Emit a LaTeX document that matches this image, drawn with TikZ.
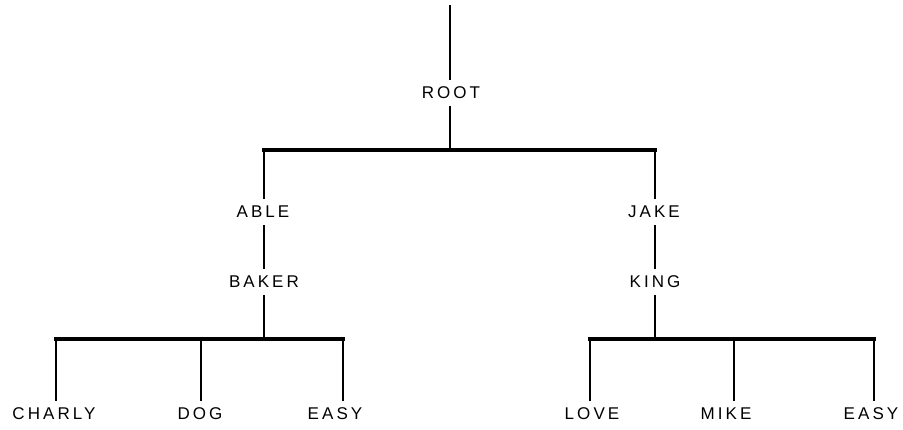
\documentclass[tikz,border=0pt]{standalone}
\usepackage{fontspec}
\setmainfont{Liberation Sans}[LetterSpace=18]
\begin{document}
\begin{tikzpicture}[x=1pt,y=-1pt,
  lbl/.style={inner xsep=0pt,inner ysep=7pt,text height=12pt,text depth=0pt,
    font=\fontsize{17}{17}\selectfont},
  stem/.style={line width=2.3pt},
  bar/.style={line width=3.4pt,line cap=rect}]
\useasboundingbox (0,0) rectangle (903,430);
% labels
\node[lbl] (root) at (451,93) {ROOT};
\node[lbl] (able) at (263,212) {ABLE};
\node[lbl] (baker) at (264,282) {BAKER};
\node[lbl] (jake) at (654,212) {JAKE};
\node[lbl] (king) at (655,282) {KING};
\node[lbl] (charly) at (54,414) {CHARLY};
\node[lbl] (dog) at (200,414) {DOG};
\node[lbl] (easya) at (335,414) {EASY};
\node[lbl] (love) at (592,414) {LOVE};
\node[lbl] (mike) at (726,414) {MIKE};
\node[lbl] (easyb) at (871,414) {EASY};
% junction points
\coordinate (top) at (450,5);
\coordinate (j0) at (450,150);
\coordinate (jl) at (264,150);
\coordinate (jr) at (655,150);
\coordinate (kl) at (264,339);
\coordinate (kr) at (655,339);
\coordinate (c1) at (56,339);
\coordinate (c2) at (201,339);
\coordinate (c3) at (343,339);
\coordinate (d1) at (590,339);
\coordinate (d2) at (734,339);
\coordinate (d3) at (874,339);
% connectors
\draw[stem] (top) -- (top |- root.north);
\draw[stem] (j0 |- root.south) -- (j0);
\draw[bar] (jl) -- (jr);
\draw[stem] (jl) -- (jl |- able.north);
\draw[stem] (jl |- able.south) -- (jl |- baker.north);
\draw[stem] (kl |- baker.south) -- (kl);
\draw[stem] (jr) -- (jr |- jake.north);
\draw[stem] (jr |- jake.south) -- (jr |- king.north);
\draw[stem] (kr |- king.south) -- (kr);
\draw[bar] (c1) -- (c3);
\draw[bar] (d1) -- (d3);
\draw[stem] (c1) -- (c1 |- charly.north);
\draw[stem] (c2) -- (c2 |- dog.north);
\draw[stem] (c3) -- (c3 |- easya.north);
\draw[stem] (d1) -- (d1 |- love.north);
\draw[stem] (d2) -- (d2 |- mike.north);
\draw[stem] (d3) -- (d3 |- easyb.north);
\end{tikzpicture}
\end{document}
